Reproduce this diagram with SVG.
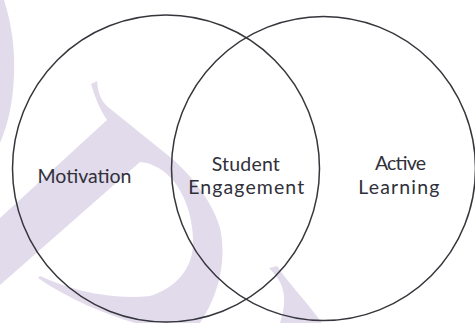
<svg xmlns="http://www.w3.org/2000/svg" width="475" height="323" viewBox="0 0 475 323">
  <style>
    .wm { fill: #e2dbec; stroke: none; }
    .ring { fill: none; stroke: #35353c; stroke-width: 1.5; }
    .lbl { font-family: Lato, "Open Sans", sans-serif; font-size: 19.5px; fill: #30303a; text-anchor: middle; }
  </style>
  <rect width="475" height="323" fill="#ffffff"/>
  <g id="watermark">
    <path class="wm" d="M0,0 L4,0 C12,25 15,50 14,75 C13,100 9,122 0,143 Z"/>
    <path class="wm" d="M91,84 L97,81 C98,92 100,100 108,107 L170,157 C190,174 212,200 220,228 C226,255 222,290 200,323 L135,323 C105,314 70,300 38,278 L40,276 C70,290 110,300 150,296 C175,288 192,270 193,245 C194,220 185,192 170,177 C160,167 150,163 140,162 L0,285 L0,218 L107,120 C100,110 95,97 91,84 Z"/>
    <path class="wm" d="M269,268 L277,266 C290,285 305,300 322,323 L280,323 C286,305 285,292 280,282 C276,276 273,272 269,268 Z"/>
  </g>
  <g id="motivation">
    <circle class="ring" cx="166" cy="168.5" r="153.5"/>
    <text class="lbl" x="84.5" y="183" textLength="94">Motivation</text>
  </g>
  <g id="active-learning">
    <circle class="ring" cx="323.5" cy="168.5" r="152"/>
    <text class="lbl" x="400.5" y="169.5" textLength="51">Active</text>
    <text class="lbl" x="398.8" y="193.5" textLength="81">Learning</text>
  </g>
  <g id="student-engagement">
    <text class="lbl" x="245.8" y="170.5" textLength="68">Student</text>
    <text class="lbl" x="246.2" y="194" textLength="116">Engagement</text>
  </g>
  <g id="connectors"/>
</svg>
